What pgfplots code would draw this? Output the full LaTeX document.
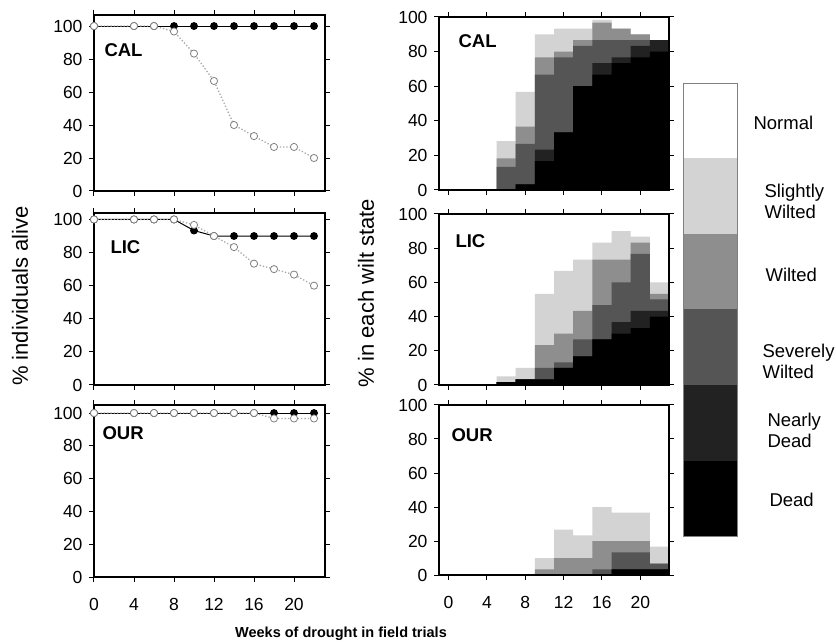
\documentclass[border=0pt]{standalone}
\usepackage{fontspec}
\setmainfont{Liberation Sans}
\usepackage{pgfplots}
\pgfplotsset{compat=1.18}
\definecolor{cSW}{HTML}{D3D3D3}
\definecolor{cW}{HTML}{8E8E8E}
\definecolor{cSV}{HTML}{555555}
\definecolor{cND}{HTML}{222222}
\definecolor{cD}{HTML}{000000}
\definecolor{lgray}{HTML}{A8A8A8}
\newcommand\tickfont{\fontsize{17.5}{20}\selectfont}
\newcommand\legfont{\fontsize{18.5}{21}\selectfont}
\newcommand\panfont{\fontsize{18.5}{21}\selectfont\bfseries}
\pgfplotsset{
  panel/.style={scale only axis, tick align=outside, tick pos=both,
    major tick length=5pt,
    axis line style={line width=1.2pt},
    every tick/.style={black, line width=1pt},
    ticklabel style={font=\tickfont},
    xticklabel style={yshift=-13pt},
    yticklabel style={xshift=-3pt},
    /pgf/number format/assume math mode=true,
    ymin=0, ytick={0,20,...,100}, xtick={0,4,...,20}},
  panelL/.style={panel, width=231pt, xmin=0, xmax=23.1, clip=false},
  panelR/.style={panel, width=230pt, xmin=-1, xmax=23, ymax=100, axis on top},
  filled/.style={black, line width=1pt, mark=*, mark size=3.4pt},
  open/.style={lgray, dotted, line width=1.3pt, mark=*, mark size=3.6pt,
    mark options={solid, fill=white, draw=gray, line width=0.8pt}},
  bSW/.style={ybar, bar width=2, fill=cSW, draw=none},
  bW/.style={ybar, bar width=2, fill=cW, draw=none},
  bSV/.style={ybar, bar width=2, fill=cSV, draw=none},
  bND/.style={ybar, bar width=2, fill=cND, draw=none},
  bD/.style={ybar, bar width=2, fill=cD, draw=none},
}
\begin{document}
\begin{tikzpicture}
\useasboundingbox (0pt,0pt) rectangle (836pt,-644pt);
% ---------------- left: CAL
\begin{axis}[panelL, at={(94pt,-191pt)}, anchor=south west, height=176pt, ymax=106.7, xticklabels={}]
\addplot[filled] coordinates {(0,100)(4,100)(6,100)(8,100)(10,100)(12,100)(14,100)(16,100)(18,100)(20,100)(22,100)};
\addplot[open] coordinates {(0,100)(4,100)(6,100)(8,96.7)(10,83.3)(12,66.7)(14,40)(16,33.3)(18,26.7)(20,26.7)(22,20)};
\end{axis}
% ---------------- left: LIC
\begin{axis}[panelL, at={(94pt,-385pt)}, anchor=south west, height=172pt, ymax=103.9, xticklabels={}]
\addplot[filled] coordinates {(0,100)(4,100)(6,100)(8,100)(10,93.3)(12,90)(14,90)(16,90)(18,90)(20,90)(22,90)};
\addplot[open] coordinates {(0,100)(4,100)(6,100)(8,100)(10,96.7)(12,90)(14,83.3)(16,73.3)(18,70)(20,66.7)(22,60)};
\end{axis}
% ---------------- left: OUR
\begin{axis}[panelL, at={(94pt,-577pt)}, anchor=south west, height=172pt, ymax=104.9]
\addplot[filled] coordinates {(0,100)(4,100)(6,100)(8,100)(10,100)(12,100)(14,100)(16,100)(18,100)(20,100)(22,100)};
\addplot[open] coordinates {(0,100)(4,100)(6,100)(8,100)(10,100)(12,100)(14,100)(16,100)(18,96.7)(20,96.7)(22,96.7)};
\end{axis}
% ---------------- right: CAL
\begin{axis}[panelR, at={(439pt,-190pt)}, anchor=south west, height=173pt, xticklabels={}]
\addplot[bSW] coordinates {(6,28.3)(8,56.7)(10,90)(12,93.3)(14,93.3)(16,98.3)(18,93.3)(20,90)(22,86.7)};
\addplot[bW] coordinates {(6,18.3)(8,36.7)(10,76.7)(12,80)(14,86.7)(16,96.7)(18,93.3)(20,90)(22,86.7)};
\addplot[bSV] coordinates {(6,13.3)(8,26.7)(10,66.7)(12,76.7)(14,83.3)(16,86.7)(18,86.7)(20,86.7)(22,86.7)};
\addplot[bND] coordinates {(6,0)(8,3.3)(10,23.3)(12,33.3)(14,60)(16,73.3)(18,76.7)(20,83.3)(22,86.7)};
\addplot[bD] coordinates {(6,0)(8,3.3)(10,16.7)(12,33.3)(14,60)(16,66.7)(18,73.3)(20,76.7)(22,80)};
\end{axis}
% ---------------- right: LIC
\begin{axis}[panelR, at={(439pt,-385pt)}, anchor=south west, height=171pt, xticklabels={}]
\addplot[bSW] coordinates {(6,5)(8,10)(10,53.3)(12,66.7)(14,73.3)(16,83.3)(18,90)(20,86.7)(22,60)};
\addplot[bW] coordinates {(6,1.7)(8,3.3)(10,23.3)(12,30)(14,43.3)(16,73.3)(18,73.3)(20,83.3)(22,53.3)};
\addplot[bSV] coordinates {(6,1.7)(8,3.3)(10,10)(12,13.3)(14,26.7)(16,46.7)(18,60)(20,76.7)(22,50)};
\addplot[bND] coordinates {(6,1.7)(8,3.3)(10,3.3)(12,10)(14,16.7)(16,26.7)(18,36.7)(20,43.3)(22,43.3)};
\addplot[bD] coordinates {(6,1.7)(8,3.3)(10,3.3)(12,10)(14,16.7)(16,26.7)(18,30)(20,33.3)(22,40)};
\end{axis}
% ---------------- right: OUR
\begin{axis}[panelR, at={(439pt,-575pt)}, anchor=south west, height=170pt]
\addplot[bSW] coordinates {(10,10)(12,26.7)(14,23.3)(16,40)(18,36.7)(20,36.7)(22,16.7)};
\addplot[bW] coordinates {(10,3.3)(12,10)(14,10)(16,20)(18,20)(20,20)(22,6.7)};
\addplot[bSV] coordinates {(16,3.3)(18,13.3)(20,13.3)(22,6.7)};
\addplot[bND] coordinates {(18,3.3)(20,3.3)(22,3.3)};
\addplot[bD] coordinates {(18,3.3)(20,3.3)(22,3.3)};
\end{axis}
% ---------------- panel labels
\node[font=\panfont, anchor=west] at (101pt,-50pt) {CAL};
\node[font=\panfont, anchor=west] at (107pt,-247pt) {LIC};
\node[font=\panfont, anchor=west] at (99pt,-433pt) {OUR};
\node[font=\panfont, anchor=west] at (455pt,-41pt) {CAL};
\node[font=\panfont, anchor=west] at (452pt,-241pt) {LIC};
\node[font=\panfont, anchor=west] at (448pt,-435pt) {OUR};
% ---------------- axis titles
\node[font=\fontsize{22}{24}\selectfont, rotate=90] at (20pt,-296pt) {\% individuals alive};
\node[font=\fontsize{22}{24}\selectfont, rotate=90] at (366pt,-293pt) {\% in each wilt state};
\node[font=\fontsize{14.5}{17}\selectfont\bfseries] at (341pt,-634pt) {Weeks of drought in field trials};
% ---------------- wilt-state key
\fill[white] (683pt,-83pt) rectangle (737pt,-158.5pt);
\fill[cSW] (683pt,-158.5pt) rectangle (737pt,-234pt);
\fill[cW] (683pt,-234pt) rectangle (737pt,-309.5pt);
\fill[cSV] (683pt,-309.5pt) rectangle (737pt,-385pt);
\fill[cND] (683pt,-385pt) rectangle (737pt,-460.5pt);
\fill[cD] (683pt,-460.5pt) rectangle (737pt,-536pt);
\draw[gray, line width=0.6pt] (683pt,-83pt) rectangle (737pt,-536pt);
\node[font=\legfont, anchor=west] at (750pt,-123pt) {Normal};
\node[font=\legfont, anchor=west, align=left] at (761pt,-201pt) {Slightly\\Wilted};
\node[font=\legfont, anchor=west] at (762pt,-275pt) {Wilted};
\node[font=\legfont, anchor=west, align=left] at (759pt,-361pt) {Severely\\Wilted};
\node[font=\legfont, anchor=west, align=left] at (764pt,-430pt) {Nearly\\Dead};
\node[font=\legfont, anchor=west] at (766pt,-500pt) {Dead};
\end{tikzpicture}
\end{document}
